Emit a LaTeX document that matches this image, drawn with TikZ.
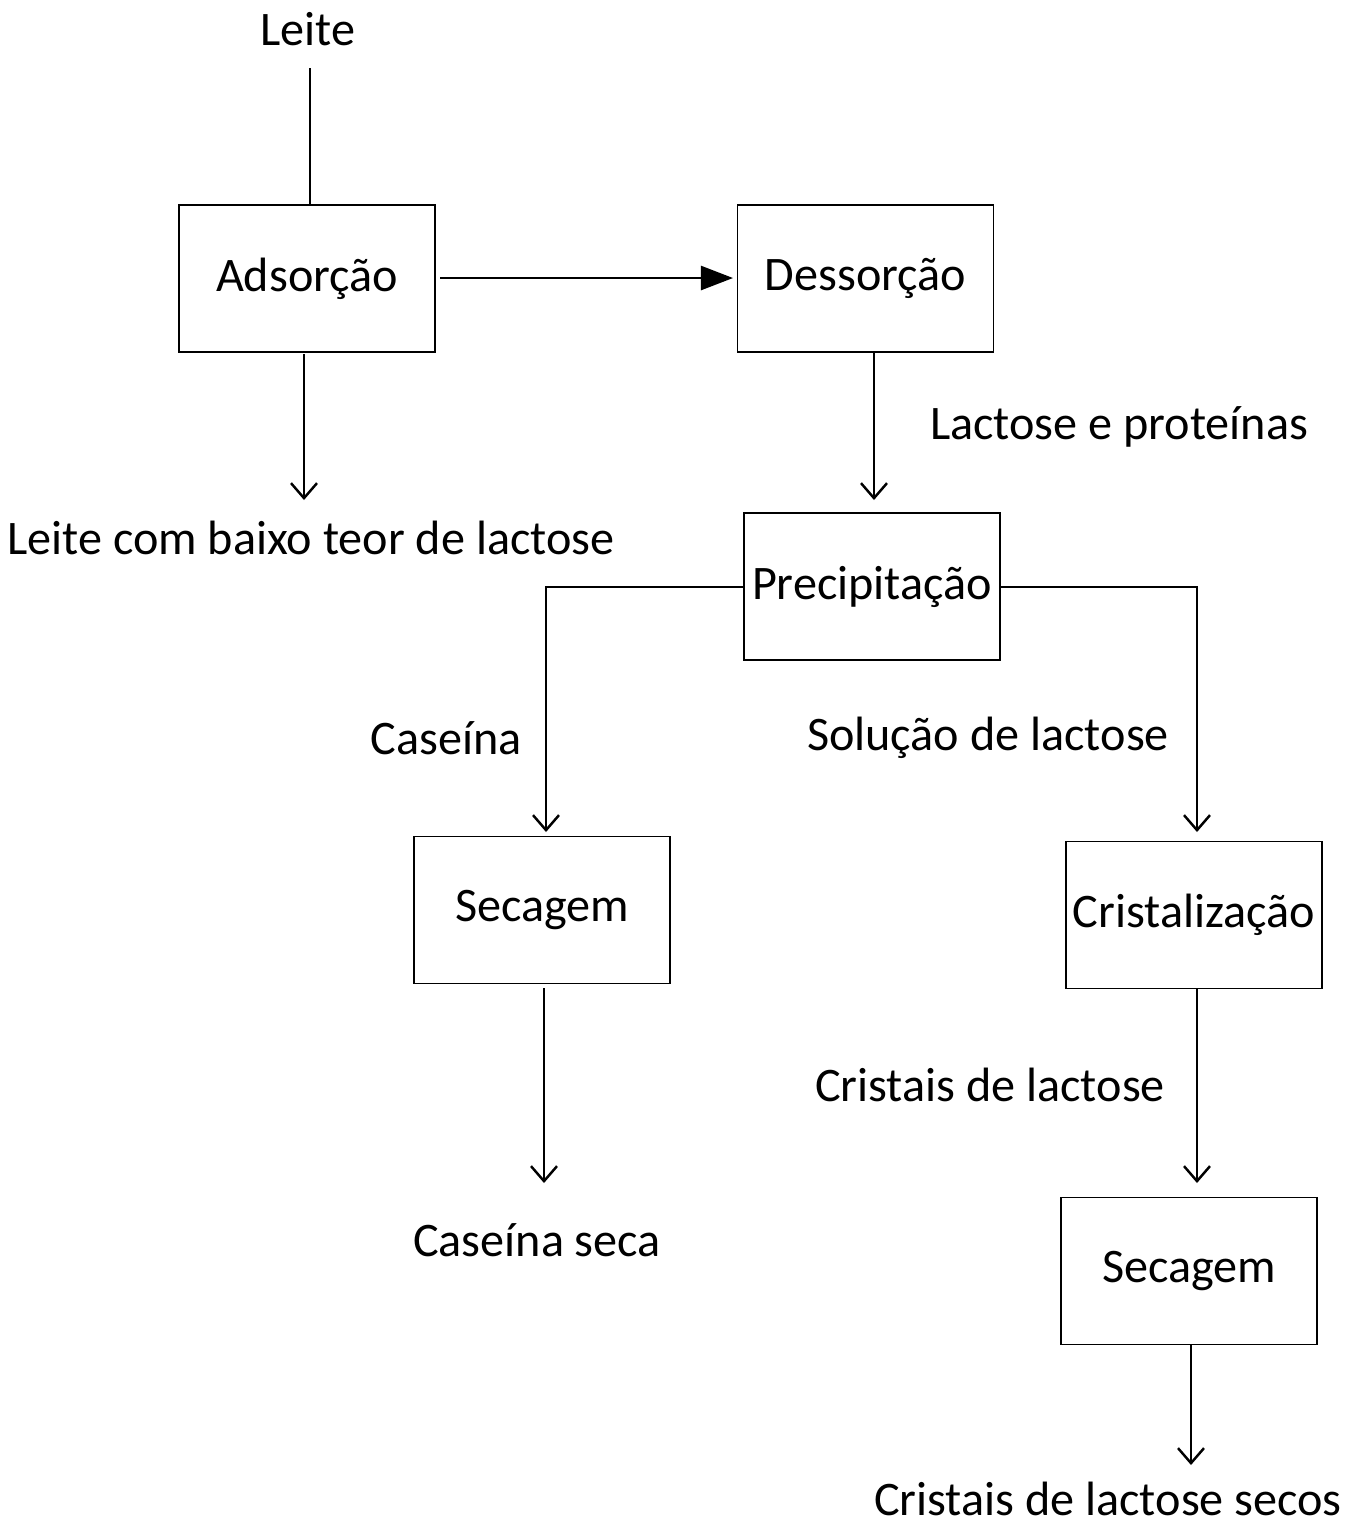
\documentclass[tikz,border=0pt]{standalone}
\usepackage{fontspec}
\setmainfont{Carlito}
\usetikzlibrary{arrows.meta}

\tikzset{
  etapa/.style={draw=black,line width=0.4pt,minimum width=2.56cm,minimum height=1.47cm,inner sep=1pt},
  fluxo/.style={line width=0.7pt,-{Straight Barb[length=1.5mm,width=2.6mm,line width=0.7pt]}},
  rotulo/.style={inner sep=0pt}
}

\begin{document}
\begin{tikzpicture}[x=0.01cm,y=-0.01cm,font=\fontsize{13.7}{16}\selectfont]
\useasboundingbox (0,0) rectangle (1346,1526);

\node[etapa] (ads) at (307,278.5) {Adsorção};
\node[etapa] (des) at (865.5,278.5) {Dessorção};
\node[etapa] (pre) at (872,586.5) {Precipitação};
\node[etapa] (sec1) at (542,910) {Secagem};
\node[etapa] (cri) at (1194,915) {Cristalização};
\node[etapa] (sec2) at (1189,1271) {Secagem};

\node[rotulo] (leite) at (308,29) {Leite};
\node[rotulo] (baixo) at (311,538) {Leite com baixo teor de lactose};
\node[rotulo] (lacprot) at (1119,427) {Lactose e proteínas};
\node[rotulo] (caseina) at (446,738) {Caseína};
\node[rotulo] (solucao) at (988,738) {Solução de lactose};
\node[rotulo] (casseca) at (537,1240) {Caseína seca};
\node[rotulo] (cristais) at (990,1085) {Cristais de lactose};
\node[rotulo] (secos) at (1108,1499) {Cristais de lactose secos};

\coordinate (e1) at (304,500);
\coordinate (e2) at (874,500);
\coordinate (e3) at (546,832);
\coordinate (e4) at (1197,832);
\coordinate (e5) at (544,1183);
\coordinate (e6) at (1197,1183);
\coordinate (e7) at (1191,1465);

\draw[line width=0.5pt] (310,68) -- (310,204);
\draw[line width=0.7pt,-{Triangle[length=3.2mm,width=2.4mm]}] (440,278) -- (733,278);
\draw[fluxo] (304,354) -- (e1);
\draw[fluxo] (874,352) -- (e2);
\draw[fluxo] (pre.west |- 0,587) -- (546,587) -- (e3);
\draw[fluxo] (pre.east |- 0,587) -- (1197,587) -- (e4);
\draw[fluxo] (544,988) -- (e5);
\draw[fluxo] (1197,988) -- (e6);
\draw[fluxo] (1191,1344) -- (e7);

\end{tikzpicture}
\end{document}
